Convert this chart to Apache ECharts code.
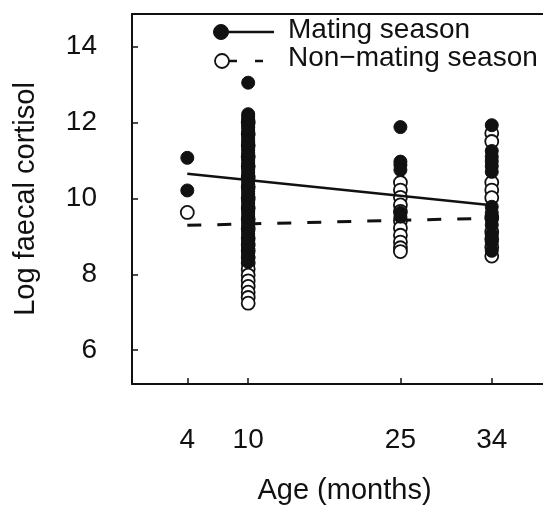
<!DOCTYPE html>
<html>
<head>
<meta charset="utf-8">
<script src="https://cdn.jsdelivr.net/npm/echarts@6/dist/echarts.min.js"></script>
<style>
  html, body { margin: 0; padding: 0; background: #fff; }
  #chart { width: 543px; height: 510px; }
</style>
</head>
<body>
<div id="chart"></div>
<script>
// Ages (months) at which samples were taken
const ageTicks = [4, 10, 25, 34];
const cortisolTicks = [6, 8, 10, 12, 14];

// Log faecal cortisol per sample, mating season
const matingAge4 = [11.07, 10.21];
const matingAge10 = [13.05, 12.22, 12.16, 12.09, 12.03, 11.97, 11.9, 11.86, 11.78, 11.71, 11.66,
  11.58, 11.52, 11.47, 11.39, 11.33, 11.27, 11.2, 11.13, 11.08, 11.01, 10.94, 10.88, 10.83,
  10.76, 10.69, 10.62, 10.57, 10.5, 10.44, 10.37, 10.31, 10.24, 10.18, 10.12, 10.05, 9.98,
  9.93, 9.86, 9.79, 9.73, 9.66, 9.6, 9.53, 9.47, 9.4, 9.34, 9.27, 9.2, 9.14, 9.07, 9.01,
  8.94, 8.88, 8.81, 8.74, 8.68, 8.61, 8.55, 8.47, 8.41, 8.33];
const matingAge25 = [11.88, 10.97, 10.88, 10.75, 9.62, 9.52];
const matingAge34 = [11.93, 11.25, 11.1, 10.98, 10.85, 10.7, 9.78, 9.62, 9.45, 9.3, 9.05, 8.85, 8.62];

// Log faecal cortisol per sample, non-mating season
const nonMatingAge4 = [9.63];
const nonMatingAge10 = [12.0, 11.7, 11.4, 11.1, 10.85, 10.55, 10.3, 10.0, 9.75, 9.45, 9.2,
  8.95, 8.78, 8.62, 8.45, 8.3, 8.14, 7.98, 7.83, 7.68, 7.53, 7.39, 7.24];
const nonMatingAge25 = [10.42, 10.22, 10.03, 9.83, 9.66, 9.41, 9.22, 9.03, 8.85, 8.7, 8.6];
const nonMatingAge34 = [11.72, 11.5, 10.42, 10.22, 10.02, 9.5, 9.12, 8.93, 8.72, 8.48];

// Fitted trends (age, log cortisol)
const matingFit = [[4, 10.65], [34, 9.82]];
const nonMatingFit = [[4, 9.29], [34, 9.48]];

function pairs(age, values) {
  return values.map(v => [age, v]);
}

const matingPoints = [].concat(
  pairs(4, matingAge4), pairs(10, matingAge10), pairs(25, matingAge25), pairs(34, matingAge34));
const nonMatingPoints = [].concat(
  pairs(4, nonMatingAge4), pairs(10, nonMatingAge10), pairs(25, nonMatingAge25), pairs(34, nonMatingAge34));

const ink = '#111';
const font = 'Liberation Sans, Arial, sans-serif';
const frame = { show: true, onZero: false, lineStyle: { color: ink, width: 2 } };

const chart = echarts.init(document.getElementById('chart'), null, { renderer: 'canvas' });

chart.setOption({
  animation: false,
  backgroundColor: '#fff',
  grid: { left: 132, top: 14, width: 411, height: 373 },
  xAxis: [
    {
      type: 'value', min: -1.45, max: 39.05, position: 'bottom',
      axisLine: frame,
      splitLine: { show: false },
      axisTick: { show: true, inside: true, length: 6, customValues: ageTicks, lineStyle: { color: ink, width: 1.5 } },
      axisLabel: { customValues: ageTicks, margin: 42, fontSize: 28, color: ink, fontFamily: font },
      name: 'Age (months)', nameLocation: 'middle', nameGap: 92,
      nameTextStyle: { fontSize: 29, color: ink, fontFamily: font, padding: [0, 0, 0, 14] }
    },
    {
      // top edge of the plot frame
      type: 'value', min: -1.45, max: 39.05, position: 'top',
      axisLine: frame, axisTick: { show: false }, axisLabel: { show: false }, splitLine: { show: false }
    }
  ],
  yAxis: {
    type: 'value', min: 5.11, max: 14.86,
    axisLine: frame,
    splitLine: { show: false },
    axisTick: { show: true, inside: true, length: 6, customValues: cortisolTicks, lineStyle: { color: ink, width: 1.5 } },
    axisLabel: { customValues: cortisolTicks, margin: 35, fontSize: 28, color: ink, fontFamily: font },
    name: 'Log faecal cortisol', nameLocation: 'middle', nameGap: 92, nameRotate: 90,
    nameTextStyle: { fontSize: 29, color: ink, fontFamily: font }
  },
  series: [
    {
      name: 'Non−mating season', type: 'scatter', data: nonMatingPoints,
      symbol: 'circle', symbolSize: 13, z: 2,
      itemStyle: { color: '#fff', borderColor: ink, borderWidth: 1.8, opacity: 1 }
    },
    {
      name: 'Mating season', type: 'scatter', data: matingPoints,
      symbol: 'circle', symbolSize: 13, z: 3,
      itemStyle: { color: ink, borderColor: ink, borderWidth: 1, opacity: 1 }
    },
    {
      name: 'Mating fit', type: 'line', data: matingFit, showSymbol: false, z: 4,
      lineStyle: { color: ink, width: 2.5, type: 'solid' }
    },
    {
      name: 'Non-mating fit', type: 'line', data: nonMatingFit, showSymbol: false, z: 4,
      lineStyle: { color: ink, width: 3, type: [14, 16] }
    }
  ],
  graphic: [
    // key: filled marker with solid line
    { type: 'line', shape: { x1: 220, y1: 32, x2: 274, y2: 32 }, style: { stroke: ink, lineWidth: 2.5 }, z: 10 },
    { type: 'circle', shape: { cx: 221, cy: 32, r: 7.5 }, style: { fill: ink, stroke: ink }, z: 10 },
    { type: 'text', left: 288, top: 16, style: { text: 'Mating season', fontSize: 28, fill: ink, font: '28px ' + font }, z: 10 },
    // key: open marker with dashes
    { type: 'line', shape: { x1: 229, y1: 61, x2: 237, y2: 61 }, style: { stroke: ink, lineWidth: 2.5 }, z: 10 },
    { type: 'line', shape: { x1: 255, y1: 61, x2: 263, y2: 61 }, style: { stroke: ink, lineWidth: 2.5 }, z: 10 },
    { type: 'circle', shape: { cx: 222, cy: 61, r: 7 }, style: { fill: '#fff', stroke: ink, lineWidth: 1.8 }, z: 10 },
    { type: 'text', left: 288, top: 44, style: { text: 'Non−mating season', fontSize: 28, fill: ink, font: '28px ' + font }, z: 10 }
  ]
});
</script>
</body>
</html>
